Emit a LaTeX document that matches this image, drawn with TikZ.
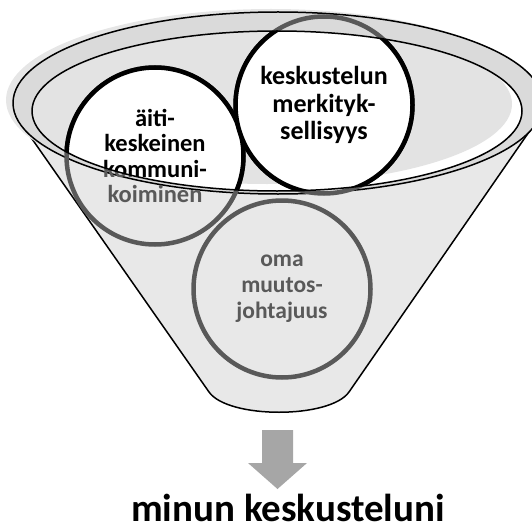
\documentclass[tikz,border=0pt]{standalone}
\usepackage{fontspec}
\setmainfont{Carlito}
\usetikzlibrary{positioning}
\definecolor{rimgrey}{RGB}{218,218,218}
\definecolor{halogrey}{RGB}{230,230,230}
\definecolor{bodygrey}{RGB}{232,232,232}
\definecolor{innergrey}{RGB}{227,227,227}
\definecolor{ringgrey}{RGB}{89,89,89}
\definecolor{arrowgrey}{RGB}{166,166,166}
\tikzset{
  bubble/.style    = {circle, draw=ringgrey, line width=4.5pt, minimum size=177pt,
                      inner sep=0pt, text=ringgrey, align=center,
                      font=\fontsize{24.5}{25.5}\selectfont\bfseries},
  topbubble/.style = {bubble, draw=black, fill=white, text=black},
  bigtext/.style   = {font=\fontsize{26}{27.5}\selectfont\bfseries},
  smalltext/.style = {font=\fontsize{23.5}{26}\selectfont\bfseries},
  rim/.style       = {draw=black, line width=1.5pt, line join=round},
  goal/.style      = {anchor=base, inner sep=0pt, text=black,
                      font=\fontsize{39}{44}\selectfont\bfseries},
}

\begin{document}
\begin{tikzpicture}[x=1pt, y=-1pt]
\useasboundingbox (0,0) rectangle (532,532);
\clip (0,0) rectangle (532,532);

% funnel body
\fill[bodygrey] (16,116) -- (209,392) .. controls (228,419) and (330,419) .. (349,392)
     -- (540,116) -- cycle;
\draw[rim] (16,116) -- (209,392) .. controls (228,419) and (330,419) .. (349,392)
     -- (540,116);

% rim of the funnel
\fill[halogrey] (271,100) ellipse [x radius=265, y radius=91];
\filldraw[rim, fill=rimgrey] (278,103) ellipse [x radius=265, y radius=91];
\fill[white] (277,111) ellipse [x radius=245, y radius=80];
\begin{scope}
  \clip (277,111) ellipse [x radius=245, y radius=80];
  \fill[innergrey] (267,104) ellipse [x radius=245, y radius=80];
\end{scope}

% the three circles, seen through the funnel
\node[bubble] (mother)  at (155,156) {äiti-\\keskeinen\\kommuni-\\koiminen};
\node[bubble, bigtext] (meaning) at (324,105) {keskustelun\\merkityk-\\sellisyys};
\node[bubble, smalltext] (change)  at (282,289) {oma\\muutos-\\johtajuus};

% the part of the circles inside the rim
\begin{scope}
  \clip (277,111) ellipse [x radius=245, y radius=80];
  \node[topbubble] (mothertop)  at (mother)  {äiti-\\keskeinen\\kommuni-\\koiminen};
  \node[topbubble, bigtext] (meaningtop) at (meaning) {keskustelun\\merkityk-\\sellisyys};
\end{scope}
\draw[rim] (277,111) ellipse [x radius=245, y radius=80];

% outcome
\fill[arrowgrey] (262,430) -- (293,430) -- (293,463) -- (307,463) -- (277.5,489)
     -- (248,463) -- (262,463) -- cycle;
\node[goal] (result) at (288,521) {minun keskusteluni};
\end{tikzpicture}
\end{document}
